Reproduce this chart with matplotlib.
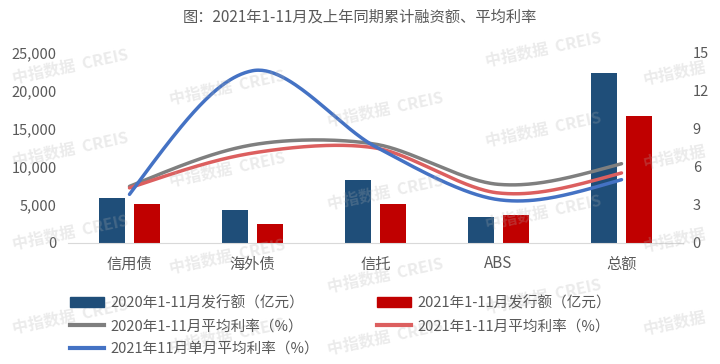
import numpy as np
import matplotlib
matplotlib.use('Agg')
import matplotlib.pyplot as plt
from matplotlib.patches import Patch
from matplotlib.lines import Line2D
from matplotlib.ticker import FuncFormatter

plt.rcParams['font.family'] = ['Noto Sans CJK SC', 'DejaVu Sans']

# data
categories = ['信用债', '海外债', '信托', 'ABS', '总额']
amount_2020 = [5920, 4320, 8290, 3420, 22330]
amount_2021 = [5100, 2460, 5130, 3680, 16710]
rate_2020 = [4.47, 7.75, 7.8, 4.63, 6.26]
rate_2021 = [4.35, 7.1, 7.5, 3.95, 5.53]
rate_2021_nov = [3.84, 13.6, 7.6, 3.42, 5.0]

names = ['2020年1-11月发行额（亿元）', '2021年1-11月发行额（亿元）',
         '2020年1-11月平均利率（%）', '2021年1-11月平均利率（%）',
         '2021年11月单月平均利率（%）']

c_bar20 = '#1f4e79'
c_bar21 = '#c00000'
c_gray = '#7f7f7f'
c_red = '#dc5f5f'
c_blue = '#4472c4'
tick_col = '#595959'


def smooth(xs, ys, f=0.15, k=0.6, n=60):
    # bezier smoothing like the office "smoothed line"
    P = np.column_stack([xs, ys]).astype(float)
    m = len(P)
    T = np.zeros_like(P)
    for i in range(1, m - 1):
        T[i] = f * (P[i + 1] - P[i - 1])
    pts = []
    t = np.linspace(0, 1, n)[:, None]
    for i in range(m - 1):
        p0, p3 = P[i], P[i + 1]
        c1 = p0 + T[i]
        c2 = p3 - T[i + 1]
        if i == 0:
            c1 = p0 + (c2 - p0) * k
        if i == m - 2:
            c2 = p3 + (c1 - p3) * k
        seg = (1 - t)**3 * p0 + 3 * (1 - t)**2 * t * c1 + 3 * (1 - t) * t**2 * c2 + t**3 * p3
        pts.append(seg)
    pts = np.vstack(pts)
    return pts[:, 0], pts[:, 1]


fig = plt.figure(figsize=(7.2, 3.64), dpi=100)
fig.patch.set_facecolor('white')
ax = fig.add_axes([68/720, 1 - 243/364, 615/720, 190/364])
ax2 = ax.twinx()

x = np.arange(len(categories))
w = 0.215
ax.bar(x - 0.142, amount_2020, w, color=c_bar20)
ax.bar(x + 0.142, amount_2021, w, color=c_bar21)
ax.set_xlim(-0.5, 4.5)
ax.set_ylim(0, 25000)
ax.set_yticks(range(0, 25001, 5000))
ax.yaxis.set_major_formatter(FuncFormatter(lambda v, p: f'{int(v):,}'))
ax.set_xticks(x)
ax.set_xticklabels(categories)

for y, col in [(rate_2020, c_gray), (rate_2021, c_red), (rate_2021_nov, c_blue)]:
    sx, sy = smooth(x, y)
    ax2.plot(sx, sy, color=col, lw=2.5, solid_capstyle='round')
ax2.set_ylim(0, 15)
ax2.set_yticks(range(0, 16, 3))

for a in (ax, ax2):
    for s in a.spines.values():
        s.set_visible(False)
    a.tick_params(length=0, labelsize=10.5, labelcolor=tick_col)
ax.spines['bottom'].set_visible(True)
ax.spines['bottom'].set_color('#d9d9d9')
ax.tick_params(axis='y', pad=8)
ax.tick_params(axis='x', pad=9, labelsize=11)
ax2.tick_params(axis='y', pad=7)

fig.text(0.5, 1 - 17/364, '图：2021年1-11月及上年同期累计融资额、平均利率',
         ha='center', va='center', fontsize=11, color=tick_col)

handles = [Patch(color=c_bar20), Line2D([], [], color=c_gray, lw=3),
           Line2D([], [], color=c_blue, lw=3), Patch(color=c_bar21),
           Line2D([], [], color=c_red, lw=3)]
labels = [names[0], names[2], names[4], names[1], names[3]]
fig.legend(handles, labels, loc='upper left', bbox_to_anchor=(70/720, 1 - 296/364),
           ncol=2, frameon=False, fontsize=10.5, handlelength=2.35, handletextpad=0.4,
           labelspacing=0.6, columnspacing=4.0, borderpad=0, borderaxespad=0,
           labelcolor=tick_col)

# watermark
wm_x = [70, 70, 70, 70, 227, 227, 227, 227, 385, 385, 385, 385, 543, 543, 543, 543]
wm_y = [67, 150, 233, 317, 88, 170, 257, 336, 110, 193, 276, 338, 50, 130, 213, 297]
for px, py in zip(wm_x, wm_y):
    fig.text(px/720, 1 - py/364, '中指数据  CREIS', ha='center', va='center', rotation=12,
             fontsize=11.5, fontweight='bold', color='#b0b0b0', alpha=0.25)
wm_edge_y = [73, 157, 240, 323]
for py in wm_edge_y:
    fig.text(675/720, 1 - py/364, '中指数据', ha='center', va='center', rotation=12,
             fontsize=11.5, fontweight='bold', color='#b0b0b0', alpha=0.25)

fig.savefig('out.png', dpi=100)
